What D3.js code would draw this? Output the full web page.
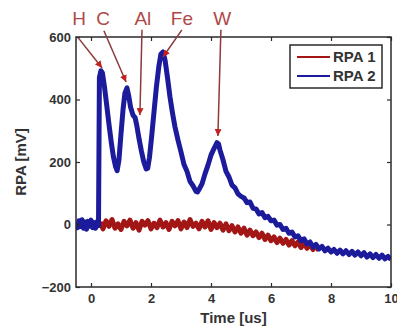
<!DOCTYPE html>
<html>
<head>
<meta charset="utf-8">
<script src="https://cdn.jsdelivr.net/npm/d3@7"></script>
<style>
  body { margin: 0; background: #fff; }
  svg { display: block; font-family: "Liberation Sans", Arial, sans-serif; }
</style>
</head>
<body>
<div id="chart"></div>
<script>
// RPA 2 (blue)
const t2 = [-0.5,-0.45,-0.4,-0.35,-0.3,-0.25,-0.2,-0.15,-0.1,-0.05,0,0.05,0.1,0.15,0.2,0.25,
  0.28,0.33,0.38,0.45,0.52,0.6,0.68,0.75,0.82,0.87,0.93,1.0,1.07,1.13,1.2,1.26,1.32,1.4,1.47,
  1.53,1.6,1.68,1.76,1.84,1.89,1.95,2.02,2.1,2.18,2.26,2.33,2.4,2.47,2.55,2.63,2.72,2.8,2.9,
  3.0,3.1,3.2,3.3,3.4,3.5,3.55,3.6,3.7,3.8,3.9,4.0,4.1,4.2,4.25,4.3,4.4,4.5,4.6,4.7,4.8,4.9,5.0,
  5.1,5.2,5.3,5.4,5.5,5.6,5.7,5.8,5.9,6.0,6.1,6.2,6.3,6.4,6.5,6.6,6.7,6.8,6.9,7.0,7.1,7.2,7.3,
  7.4,7.5,7.6,7.7,7.8,7.9,8.0,8.1,8.2,8.3,8.4,8.5,8.6,8.7,8.8,8.9,9.0,9.1,9.2,9.3,9.4,9.5,9.6,
  9.7,9.8,9.9,10.0];
const rpa2 = [5,-10,12,-6,15,-12,8,-15,10,-5,14,-10,6,-12,9,-4,
  470,492,485,440,385,320,260,215,185,172,205,290,370,420,437,410,375,350,342,
  315,275,235,200,178,180,215,280,360,440,505,545,552,525,470,410,355,312,270,
  232,192,170,138,124,106,104,112,130,162,190,222,243,262,258,238,207,170,152,126,117,98,90,
  85,70,72,52,50,34,38,22,26,12,14,-2,0,-16,-12,-28,-24,-40,-36,-52,-46,-62,-56,
  -72,-64,-78,-70,-84,-76,-88,-80,-92,-82,-94,-84,-96,-86,-98,-88,-100,-90,-104,-94,-106,-96,-108,
  -98,-110,-102,-112];

// RPA 1 (red)
const t1 = [0.3,0.4,0.5,0.6,0.7,0.8,0.9,1.0,1.1,1.2,1.3,1.4,1.5,1.6,1.7,1.8,1.9,2.0,2.1,2.2,
  2.3,2.4,2.5,2.6,2.7,2.8,2.9,3.0,3.1,3.2,3.3,3.4,3.5,3.6,3.7,3.8,3.9,4.0,4.1,4.2,4.3,4.4,4.5,
  4.6,4.7,4.8,4.9,5.0,5.1,5.2,5.3,5.4,5.5,5.6,5.7,5.8,5.9,6.0,6.1,6.2,6.3,6.4,6.5,6.6,6.7,6.8,
  6.9,7.0,7.1,7.2,7.3,7.4,7.5,7.6];
const rpa1 = [8,-14,12,-6,16,-12,2,-16,10,-4,14,-12,6,-18,10,-2,12,-14,4,-10,
  14,-8,6,-16,10,-4,12,-14,8,-10,16,-6,4,-14,10,-8,12,-16,6,-10,4,-18,2,
  -20,-4,-24,-8,-28,-12,-34,-18,-36,-24,-42,-28,-48,-34,-52,-40,-58,-44,-60,-48,-66,-52,
  -68,-56,-74,-60,-76,-64,-80,-68,-84];

const seriesNames = ["RPA 1", "RPA 2"];
const xTicks = [0, 2, 4, 6, 8, 10];
const yTicks = [-200, 0, 200, 400, 600];

// peak annotations (data coordinates)
const ionLabels = ["H", "C", "Al", "Fe", "W"];
const ionLabelT = [-0.4, 0.4, 1.73, 3.03, 4.37];
const ionLabelV = 661;
const arrowFromT = [-0.43, 0.43, 1.7, 3.03, 4.33];
const arrowFromV = [598, 620, 623, 623, 623];
const arrowToT = [0.37, 1.17, 1.63, 2.4, 4.23];
const arrowToV = [501, 456, 350, 536, 283];

const W = 397, H = 329;
const margin = {top: 37, right: 6, bottom: 42, left: 76};
const innerW = W - margin.left - margin.right;
const innerH = H - margin.top - margin.bottom;

const svg = d3.select("#chart").append("svg")
  .attr("width", W)
  .attr("height", H);

const x = d3.scaleLinear().domain([-0.5, 10]).range([margin.left, margin.left + innerW]);
const y = d3.scaleLinear().domain([-200, 600]).range([margin.top + innerH, margin.top]);

const line = d3.line()
  .x(d => x(d[0]))
  .y(d => y(d[1]));

const red = "#a31616", blue = "#1b1b9c";

svg.append("defs").append("clipPath").attr("id", "plot")
  .append("rect")
  .attr("x", margin.left).attr("y", margin.top)
  .attr("width", innerW).attr("height", innerH);

const plot = svg.append("g").attr("clip-path", "url(#plot)");

plot.append("path")
  .datum(t1.map((t, i) => [t, rpa1[i]]))
  .attr("d", line)
  .attr("fill", "none")
  .attr("stroke", red)
  .attr("stroke-width", 5)
  .attr("stroke-linejoin", "round");

plot.append("path")
  .datum(t2.map((t, i) => [t, rpa2[i]]))
  .attr("d", line)
  .attr("fill", "none")
  .attr("stroke", blue)
  .attr("stroke-width", 5)
  .attr("stroke-linejoin", "round");

// axes (MATLAB style box with inward ticks)
const tickColor = "#2a2a2a";
function styleAxis(g) {
  g.select(".domain").remove();
  g.selectAll(".tick line").attr("stroke", tickColor).attr("stroke-width", 1.2);
  g.selectAll(".tick text")
    .attr("fill", "#333")
    .style("font-size", "13px")
    .style("font-weight", "bold");
}

svg.append("g")
  .attr("transform", `translate(0,${margin.top + innerH})`)
  .call(d3.axisBottom(x).tickValues(xTicks).tickSizeInner(-4).tickPadding(7).tickFormat(d3.format("d")))
  .call(styleAxis);

svg.append("g")
  .attr("transform", `translate(${margin.left},0)`)
  .call(d3.axisLeft(y).tickValues(yTicks).tickSizeInner(-4).tickPadding(5).tickFormat(d3.format("d")))
  .call(styleAxis);

svg.append("g")
  .attr("transform", `translate(0,${margin.top})`)
  .call(d3.axisTop(x).tickValues(xTicks).tickSizeInner(-4).tickFormat(""))
  .call(styleAxis);

svg.append("g")
  .attr("transform", `translate(${margin.left + innerW},0)`)
  .call(d3.axisRight(y).tickValues(yTicks).tickSizeInner(-4).tickFormat(""))
  .call(styleAxis);

svg.append("rect")
  .attr("x", margin.left).attr("y", margin.top)
  .attr("width", innerW).attr("height", innerH)
  .attr("fill", "none")
  .attr("stroke", tickColor)
  .attr("stroke-width", 1.5);

// axis labels
svg.append("text")
  .attr("x", margin.left + innerW / 2)
  .attr("y", 323)
  .attr("text-anchor", "middle")
  .attr("fill", "#333")
  .style("font-size", "15px")
  .style("font-weight", "bold")
  .text("Time [us]");

svg.append("text")
  .attr("transform", `translate(26,${margin.top + innerH / 2}) rotate(-90)`)
  .attr("text-anchor", "middle")
  .attr("fill", "#333")
  .style("font-size", "15px")
  .style("font-weight", "bold")
  .text("RPA [mV]");

// legend
const legend = svg.append("g").attr("transform", "translate(290,45)");
legend.append("rect")
  .attr("width", 92).attr("height", 43)
  .attr("fill", "#fff")
  .attr("stroke", tickColor)
  .attr("stroke-width", 1.5);
seriesNames.forEach((name, i) => {
  const row = legend.append("g").attr("transform", `translate(0,${12 + i * 19})`);
  row.append("line")
    .attr("x1", 7).attr("x2", 40)
    .attr("stroke", i === 0 ? red : blue)
    .attr("stroke-width", 2);
  row.append("text")
    .attr("x", 43).attr("y", 5)
    .attr("fill", "#333")
    .style("font-size", "15px")
    .style("font-weight", "bold")
    .text(name);
});

// peak annotations
const annColor = "#b04848";
svg.append("defs").append("marker")
  .attr("id", "head")
  .attr("viewBox", "0 0 10 10")
  .attr("refX", 10).attr("refY", 5)
  .attr("markerWidth", 7).attr("markerHeight", 7)
  .attr("markerUnits", "userSpaceOnUse")
  .attr("orient", "auto")
  .append("path")
  .attr("d", "M0,0L10,5L0,10Z")
  .attr("fill", "#c02222");

ionLabels.forEach((lab, i) => {
  svg.append("line")
    .attr("x1", x(arrowFromT[i])).attr("y1", y(arrowFromV[i]))
    .attr("x2", x(arrowToT[i])).attr("y2", y(arrowToV[i]))
    .attr("stroke", "#8c3a3a")
    .attr("stroke-width", 1.5)
    .attr("marker-end", "url(#head)");
  svg.append("text")
    .attr("x", x(ionLabelT[i]))
    .attr("y", y(ionLabelV) + 7)
    .attr("text-anchor", "middle")
    .attr("fill", annColor)
    .style("font-size", "19px")
    .text(lab);
});
</script>
</body>
</html>
